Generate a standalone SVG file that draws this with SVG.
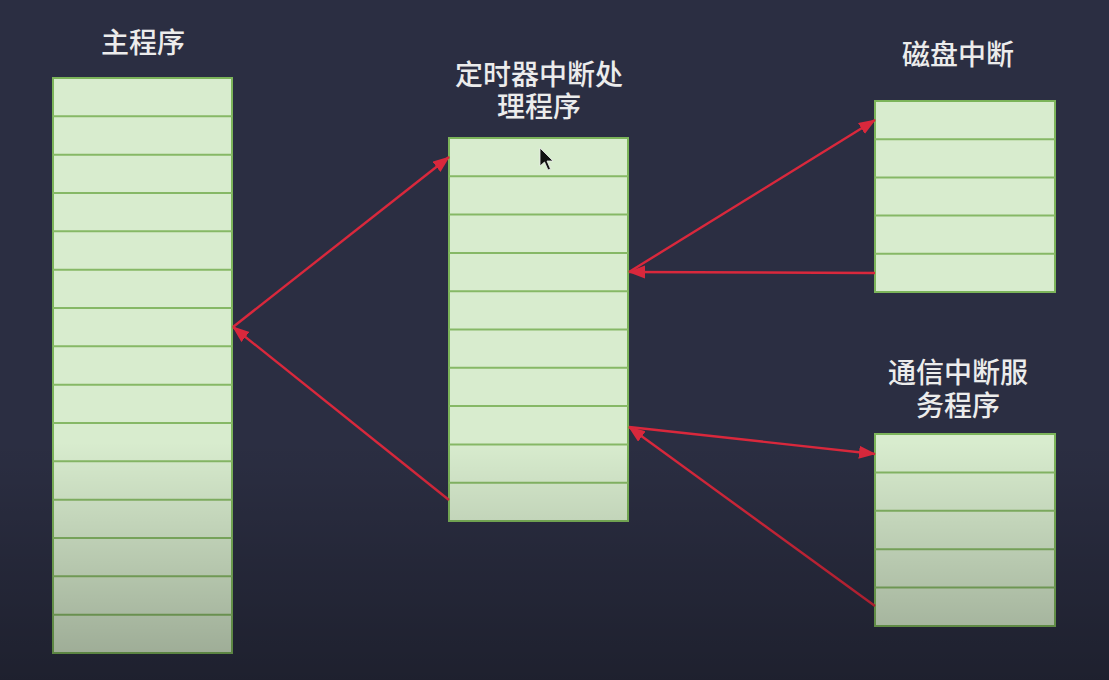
<svg xmlns="http://www.w3.org/2000/svg" width="1109" height="680" viewBox="0 0 1109 680">
<style>
.box{fill:#d8ecce;stroke:#7cb45a;stroke-width:2}
.row{stroke:#86b866;stroke-width:2}
.lbl{font-family:"Noto Sans CJK SC","Noto Sans",sans-serif;font-size:28px;font-weight:500;fill:#ececec;text-anchor:middle}
.con{stroke:#d9283c;stroke-width:2.4;fill:none}
</style>
<defs>
<marker id="ah" markerUnits="userSpaceOnUse" markerWidth="18" markerHeight="14" refX="16" refY="6.5" orient="auto">
<path d="M0,0 L17,6.5 L0,13 Z" fill="#d9283c"/>
</marker>
<linearGradient id="shade" x1="0" y1="0" x2="0" y2="1">
<stop offset="0" stop-color="#000" stop-opacity="0"/>
<stop offset="0.65" stop-color="#000" stop-opacity="0"/>
<stop offset="1" stop-color="#000" stop-opacity="0.3"/>
</linearGradient>
</defs>
<rect width="1109" height="680" fill="#2b2e42"/>
<g id="main">
<text class="lbl" x="143" y="53">主程序</text>
<rect class="box" x="53" y="78" width="179" height="575"/>
<path class="row" d="M53,116.3H232M53,154.7H232M53,193H232M53,231.3H232M53,269.7H232M53,308H232M53,346.3H232M53,384.7H232M53,423H232M53,461.3H232M53,499.7H232M53,538H232M53,576.3H232M53,614.7H232"/>
</g>
<g id="timer">
<text class="lbl" x="539" y="85">定时器中断处<tspan x="539" dy="32">理程序</tspan></text>
<rect class="box" x="449" y="138" width="179" height="383"/>
<path class="row" d="M449,176.3H628M449,214.6H628M449,252.9H628M449,291.2H628M449,329.5H628M449,367.8H628M449,406.1H628M449,444.4H628M449,482.7H628"/>
</g>
<g id="disk">
<text class="lbl" x="958" y="65">磁盘中断</text>
<rect class="box" x="875" y="101" width="180" height="191"/>
<path class="row" d="M875,139.2H1055M875,177.4H1055M875,215.6H1055M875,253.8H1055"/>
</g>
<g id="comm">
<text class="lbl" x="958" y="383">通信中断服<tspan x="958" dy="33">务程序</tspan></text>
<rect class="box" x="875" y="434" width="180" height="192"/>
<path class="row" d="M875,472.4H1055M875,510.8H1055M875,549.2H1055M875,587.6H1055"/>
</g>
<g id="connectors">
<line class="con" x1="233" y1="327" x2="449" y2="157" marker-end="url(#ah)"/>
<line class="con" x1="449" y1="500" x2="233" y2="327" marker-end="url(#ah)"/>
<line class="con" x1="629" y1="272" x2="875" y2="120" marker-end="url(#ah)"/>
<line class="con" x1="875" y1="273" x2="629" y2="272" marker-end="url(#ah)"/>
<line class="con" x1="629" y1="427" x2="875" y2="454" marker-end="url(#ah)"/>
<line class="con" x1="875" y1="606" x2="629" y2="427" marker-end="url(#ah)"/>
</g>
<path d="M540,148 L540,166 L544.5,162 L548,170 L550.5,169 L547,161 L553,161 Z" fill="#111" stroke="#eee" stroke-width="0.8"/>
<rect width="1109" height="680" fill="url(#shade)"/>
</svg>
